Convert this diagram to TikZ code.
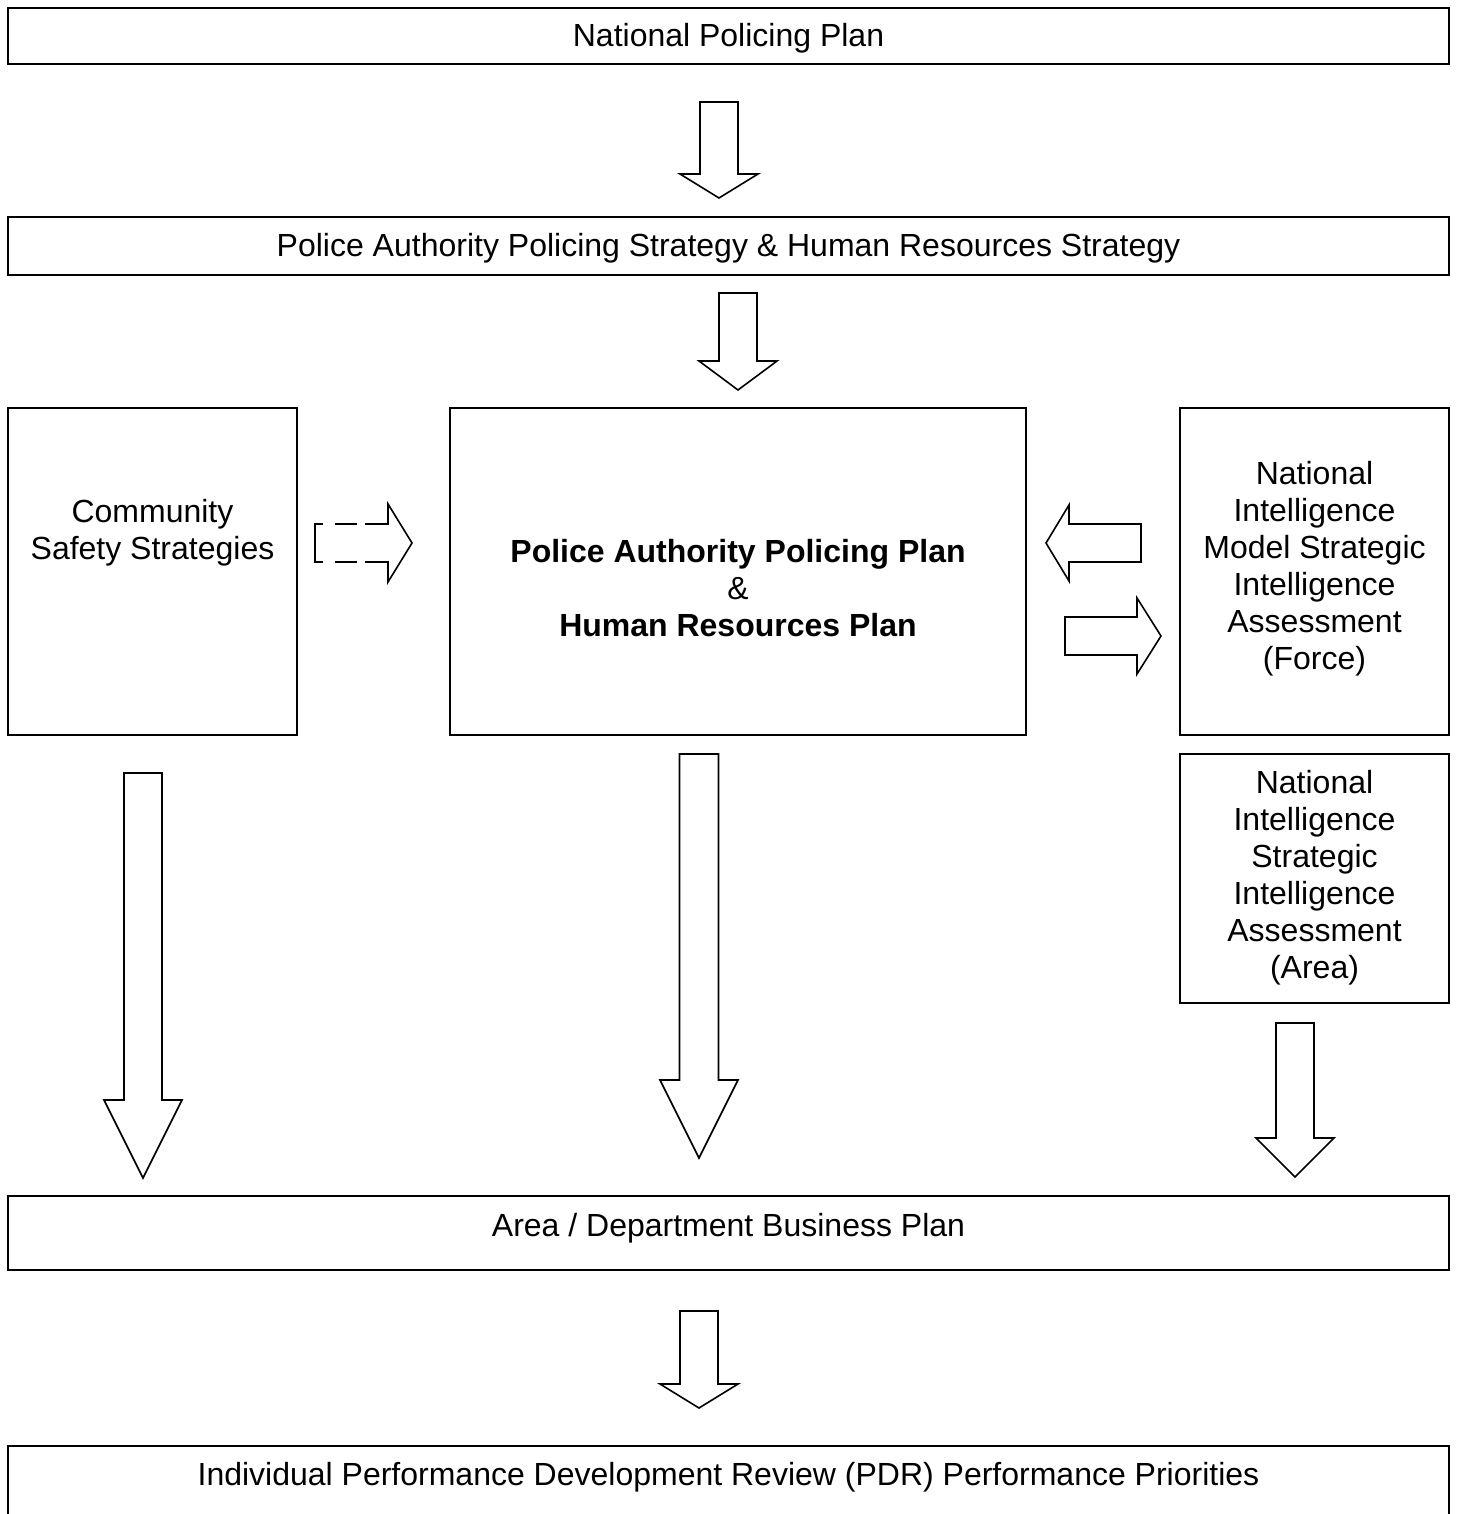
\documentclass[tikz,border=0pt]{standalone}
\usepackage{fontspec}
\setmainfont{Liberation Sans}
\usetikzlibrary{positioning}
\tikzset{
  planbox/.style={draw, line width=0.8pt, inner sep=0pt},
  plantext/.style={align=center, inner sep=0pt, font=\fontsize{16}{18.5}\selectfont},
  arrowline/.style={line width=0.8pt, line join=miter},
  pics/blockarrow/.style args={#1/#2/#3/#4}{code={
    \draw[arrowline] (0,-#3) -- (#1,-#3) -- (#1,-#4) -- (#1+#2,0) -- (#1,#4) -- (#1,#3) -- (0,#3) -- cycle;
  }}
}
\begin{document}
\begin{tikzpicture}[x=0.5pt, y=-0.5pt]
  \useasboundingbox (0,0) rectangle (1461,1514);

  % boxes
  \node[planbox, minimum width=720.5pt, minimum height=28pt] (npp) at (728.5,36) {};
  \node[plantext] (npptext) at (728.5,38) {National Policing Plan};
  \node[planbox, minimum width=720.5pt, minimum height=29pt] (pas) at (728.5,246) {};
  \node[plantext] (pastext) at (728.5,248) {Police Authority Policing Strategy \& Human Resources Strategy};

  \node[planbox, minimum width=144.5pt, minimum height=163.5pt] (css) at (152.5,571.5) {};
  \node[plantext] (csstext) at (152.5,533) {Community\\Safety Strategies};

  \node[planbox, minimum width=288pt, minimum height=163.5pt] (pap) at (738,571.5) {};
  \node[plantext] (paptext) at (738,588) {\textbf{Police Authority Policing Plan}\\{\fontsize{16}{18.5}\selectfont\&}\\\textbf{Human Resources Plan}};

  \node[planbox, minimum width=134.5pt, minimum height=163.5pt] (nimf) at (1314.5,571.5) {};
  \node[plantext] (nimftext) at (1314.5,569) {National\\Intelligence\\Model Strategic\\Intelligence\\Assessment\\(Force)};

  \node[planbox, minimum width=134.5pt, minimum height=124.5pt] (nima) at (1314.5,878.5) {};
  \node[plantext] (nimatext) at (1314.5,878) {National\\Intelligence\\Strategic\\Intelligence\\Assessment\\(Area)};

  \node[planbox, minimum width=720.5pt, minimum height=37pt] (adbp) at (728.5,1233) {};
  \node[plantext] (adbptext) at (728.5,1228) {Area / Department Business Plan};

  \node[planbox, minimum width=720.5pt, minimum height=42pt] (pdr) at (728.5,1488) {};
  \node[plantext] (pdrtext) at (728.5,1477) {Individual Performance Development Review (PDR) Performance Priorities};

  % block arrows
  \pic[rotate=-90] at (719,102) {blockarrow=72/24/19/39};
  \pic[rotate=-90] at (738,293) {blockarrow=68/29/19/39};
  \pic[rotate=-90] at (143,773) {blockarrow=327/78/19/39};
  \pic[rotate=-90] at (699,754) {blockarrow=326/78/19.5/39};
  \pic[rotate=-90] at (1295,1023) {blockarrow=115/39/19/39};
  \pic[rotate=-90] at (699,1311) {blockarrow=73/24/19/39};
  \pic[rotate=180] at (1141,543) {blockarrow=72/23/19/38};
  \pic at (1065,636) {blockarrow=72/24/19/38};

  % dashed arrow
  \draw[arrowline] (365,524) -- (388,524) -- (388,504) -- (412,543) -- (388,582) -- (388,562) -- (365,562);
  \draw[arrowline] (323,524) -- (315,524) -- (315,562) -- (323,562);
  \draw[arrowline] (335,524) -- (357,524) (335,562) -- (357,562);
\end{tikzpicture}
\end{document}
